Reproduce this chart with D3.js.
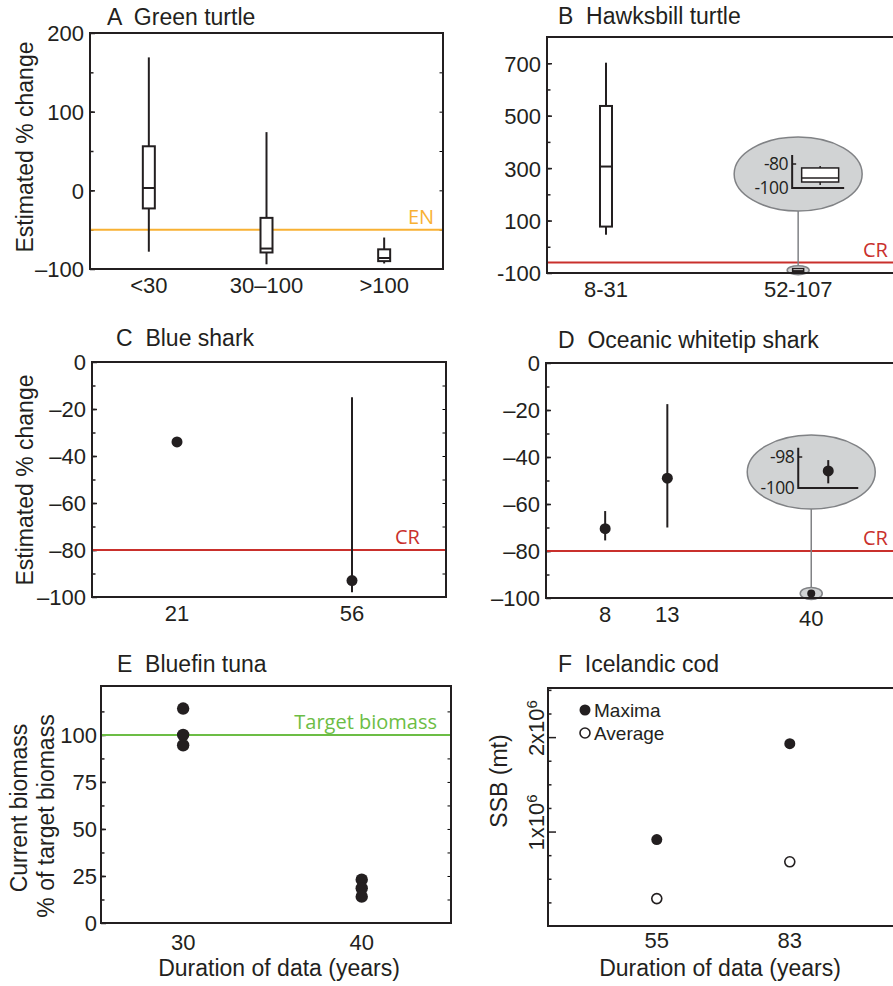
<!DOCTYPE html>
<html>
<head>
<meta charset="utf-8">
<script src="https://cdn.jsdelivr.net/npm/d3@7"></script>
<style>
body { margin: 0; background: #fff; }
text { font-family: "Liberation Sans", Arial, sans-serif; fill: #231f20; }
.myr { font-family: "Open Sans", "Noto Sans", sans-serif; }
</style>
</head>
<body>
<svg id="chart" width="893" height="986"></svg>
<script>
// ---- data ----
// A green turtle (box plots)
var greenCats = ["<30", "30\u2013100", ">100"];
var greenLo  = [-78, -94, -93];
var greenQ1  = [-23, -79, -90];
var greenMed = [3, -74, -86];
var greenQ3  = [56, -35, -75];
var greenHi  = [169, 74, -60];
var greenEN = -50;

// B hawksbill turtle
var hawkCats = ["8-31", "52-107"];
var hawkLo  = [46, -97.5];
var hawkQ1  = [77, -95];
var hawkMed = [306, -91.7];
var hawkQ3  = [537, -83.3];
var hawkHi  = [702, -81.7];
var hawkCR = -60;

// C blue shark
var blueYears = [21, 56];
var blueMean = [-34, -93];
var blueLo = [null, -98];
var blueHi = [null, -15];
var blueCR = -80;

// D oceanic whitetip
var owtYears = [8, 13, 40];
var owtMean = [-70.5, -49, -98.9];
var owtLo = [-75.5, -70, -99.7];
var owtHi = [-63, -17.5, -98.2];
var owtCR = -80;

// E bluefin tuna
var tunaYears = [30, 30, 30, 40, 40, 40];
var tunaPct = [114, 100, 94.5, 23, 18.5, 14];
var tunaTarget = 100;

// F icelandic cod
var codYears = [55, 83];
var codMax = [0.915e6, 1.93e6];
var codAvg = [0.29e6, 0.68e6];

// ---- drawing ----
var ink = "#231f20";
var svg = d3.select("#chart");
var red = "#c9302c", orange = "#f8b133", green = "#6cbd45", grey = "#808285", greyFill = "#d1d3d4";

function frame(x0, x1, y0, y1) {
  svg.append("rect")
    .attr("x", x0).attr("y", y0)
    .attr("width", x1 - x0).attr("height", y1 - y0)
    .attr("fill", "none").attr("stroke", ink).attr("stroke-width", 2);
}

// left/right inward ticks, labels on the left
function yTicks(y, x0, x1, minor, major, fmt, rightSide, opts) {
  opts = opts || {};
  var gm = svg.append("g").attr("transform", "translate(" + x0 + ",0)")
    .call(d3.axisLeft(y).tickValues(minor).tickSize(-3.5).tickFormat(""));
  gm.select(".domain").remove();
  var g = svg.append("g").attr("transform", "translate(" + x0 + ",0)")
    .call(d3.axisLeft(y).tickValues(major).tickSize(-(opts.majorLen || 5)).tickPadding(opts.pad || 6).tickFormat(fmt));
  g.select(".domain").remove();
  g.selectAll("text").style("font-size", "22px").attr("dy", "0.36em");
  if (opts.noLabels) g.selectAll("text").remove();
  if (rightSide) {
    var gr = svg.append("g").attr("transform", "translate(" + x1 + ",0)")
      .call(d3.axisRight(y).tickValues(minor).tickSize(-3.5).tickFormat(""));
    gr.select(".domain").remove();
  }
  [gm, g].forEach(function (s) { s.attr("color", ink).selectAll("line").attr("stroke-width", 1.5); });
  return g;
}

function xLabels(x, vals, texts, yb) {
  svg.append("g").selectAll("text").data(vals).enter().append("text")
    .attr("x", function (d) { return x(d); })
    .attr("y", yb)
    .attr("text-anchor", "middle")
    .style("font-size", "22px")
    .text(function (d, i) { return texts[i]; });
}

function title(txt, x, y) {
  svg.append("text").attr("x", x).attr("y", y)
    .style("font-size", "23px").style("white-space", "pre").text(txt);
}

function yTitle(txt, x, y) {
  svg.append("text").attr("transform", "translate(" + x + "," + y + ") rotate(-90)")
    .attr("text-anchor", "middle").style("font-size", "23px").text(txt);
}

function refLine(y, x0, x1, v, col, label, lx, anchor) {
  svg.append("line").attr("x1", x0 + 1).attr("x2", x1).attr("y1", y(v)).attr("y2", y(v))
    .attr("stroke", col).attr("stroke-width", 2);
  svg.append("text").attr("class", "myr").attr("x", lx).attr("y", y(v) - 6)
    .attr("text-anchor", anchor || "start")
    .style("font-size", "20px").style("fill", col).text(label);
}

function boxes(g, x, y, cats, lo, q1, med, q3, hi, w, sw) {
  var sel = g.selectAll(".bx").data(cats).enter().append("g");
  sel.append("line")
    .attr("x1", function (d) { return x(d); }).attr("x2", function (d) { return x(d); })
    .attr("y1", function (d, i) { return y(lo[i]); }).attr("y2", function (d, i) { return y(hi[i]); })
    .attr("stroke", ink).attr("stroke-width", sw);
  sel.append("rect")
    .attr("x", function (d) { return x(d) - w / 2; }).attr("width", w)
    .attr("y", function (d, i) { return y(q3[i]); })
    .attr("height", function (d, i) { return y(q1[i]) - y(q3[i]); })
    .attr("fill", "#fff").attr("stroke", ink).attr("stroke-width", sw);
  sel.append("line")
    .attr("x1", function (d) { return x(d) - w / 2; }).attr("x2", function (d) { return x(d) + w / 2; })
    .attr("y1", function (d, i) { return y(med[i]); }).attr("y2", function (d, i) { return y(med[i]); })
    .attr("stroke", ink).attr("stroke-width", sw);
  return sel;
}

function dash(v) { return v < 0 ? "\u2013" + Math.abs(v) : "" + v; }
function hyph(v) { return "" + v; }

// ===== A Green turtle =====
(function () {
  var x0 = 90, x1 = 443, y0 = 33, y1 = 269;
  var x = d3.scalePoint().domain(greenCats).range([x0, x1]).padding(0.5);
  var y = d3.scaleLinear().domain([-100, 200]).range([y1, y0]);
  yTicks(y, x0, x1, d3.range(-50, 200, 50), [-100, 0, 100, 200], dash, true);
  refLine(y, x0, x1, greenEN, orange, "EN", 408);
  boxes(svg.append("g"), x, y, greenCats, greenLo, greenQ1, greenMed, greenQ3, greenHi, 12, 2);
  frame(x0, x1, y0, y1);
  xLabels(x, greenCats, greenCats, y1 + 24);
  title("A  Green turtle", 107, 25);
  yTitle("Estimated % change", 33, 147);
})();

// ===== B Hawksbill turtle =====
(function () {
  var x0 = 547, x1 = 900, y0 = 37, y1 = 273;
  var x = d3.scaleLinear().domain([-0.307, 1.53]).range([x0, x1]);
  var xi = function (d) { return x(hawkCats.indexOf(d)); };
  var y = d3.scaleLinear().domain([-100, 800]).range([y1, y0]);
  yTicks(y, x0, x1, d3.range(0, 800, 100), [-100, 100, 300, 500, 700], hyph, false);
  refLine(y, x0, x1, hawkCR, red, "CR", 863);
  boxes(svg.append("g"), xi, y, hawkCats.slice(0, 1), hawkLo, hawkQ1, hawkMed, hawkQ3, hawkHi, 12, 2);

  // zoom callout for the second box
  var cx = xi(hawkCats[1]), cy = (y(hawkQ3[1]) + y(hawkQ1[1])) / 2;
  var ecx = cx, ecy = 174;
  svg.append("line").attr("x1", cx).attr("x2", cx).attr("y1", ecy + 37).attr("y2", cy - 4)
    .attr("stroke", grey).attr("stroke-width", 1.5);
  svg.append("ellipse").attr("cx", cx).attr("cy", cy).attr("rx", 11).attr("ry", 4.5)
    .attr("fill", greyFill).attr("stroke", grey).attr("stroke-width", 1.5);
  var one = ["b2"];
  boxes(svg.append("g"), function () { return cx; }, y, one, [hawkLo[1]], [hawkQ1[1]], [hawkMed[1]], [hawkQ3[1]], [hawkHi[1]], 11, 1.5);
  svg.append("ellipse").attr("cx", ecx).attr("cy", ecy).attr("rx", 64).attr("ry", 37)
    .attr("fill", greyFill).attr("stroke", grey).attr("stroke-width", 1.5);
  // inset axes
  var iy = d3.scaleLinear().domain([-100, -80]).range([188, 164]);
  var ax = ecx - 6, axEnd = ecx + 46;
  svg.append("path").attr("d", "M" + ax + "," + iy(-72.5) + "V" + iy(-100) + "H" + axEnd)
    .attr("fill", "none").attr("stroke", ink).attr("stroke-width", 2);
  svg.append("line").attr("x1", ax).attr("x2", ax + 4).attr("y1", iy(-80)).attr("y2", iy(-80))
    .attr("stroke", ink).attr("stroke-width", 1.5);
  svg.selectAll(".inB").data([-80, -100]).enter().append("text").attr("class", "myr")
    .attr("x", ax - 4).attr("y", function (d) { return iy(d); }).attr("dy", "0.36em")
    .attr("text-anchor", "end").style("font-size", "17.5px").style("letter-spacing", "-0.5px")
    .text(function (d) { return d; });
  boxes(svg.append("g"), function () { return ecx + 22; }, iy, one, [hawkLo[1]], [hawkQ1[1]], [hawkMed[1]], [hawkQ3[1]], [hawkHi[1]], 37, 1.5);

  frame(x0, x1, y0, y1);
  xLabels(xi, hawkCats, hawkCats, y1 + 24);
  title("B  Hawksbill turtle", 558, 24);
})();

// ===== C Blue shark =====
(function () {
  var x0 = 92, x1 = 446, y0 = 362, y1 = 597;
  var x = d3.scaleLinear().domain([4, 74.8]).range([x0, x1]);
  var y = d3.scaleLinear().domain([-100, 0]).range([y1, y0]);
  yTicks(y, x0, x1, d3.range(-90, 0, 10), [-100, -80, -60, -40, -20, 0], dash, true);
  refLine(y, x0, x1, blueCR, red, "CR", 395);
  var g = svg.append("g");
  blueYears.forEach(function (yr, i) {
    if (blueLo[i] != null) {
      g.append("line").attr("x1", x(yr)).attr("x2", x(yr)).attr("y1", y(blueLo[i])).attr("y2", y(blueHi[i]))
        .attr("stroke", ink).attr("stroke-width", 2);
    }
    g.append("circle").attr("cx", x(yr)).attr("cy", y(blueMean[i])).attr("r", 5.5).attr("fill", ink);
  });
  frame(x0, x1, y0, y1);
  xLabels(x, blueYears, blueYears, y1 + 24);
  title("C  Blue shark", 116, 346);
  yTitle("Estimated % change", 33, 480);
})();

// ===== D Oceanic whitetip shark =====
(function () {
  var x0 = 546, x1 = 900, y0 = 363, y1 = 598;
  var x = d3.scaleLog().domain([5.04, 80]).range([x0, x1]);
  var y = d3.scaleLinear().domain([-100, 0]).range([y1, y0]);
  yTicks(y, x0, x1, d3.range(-90, 0, 10), [-100, -80, -60, -40, -20, 0], dash, false);
  refLine(y, x0, x1, owtCR, red, "CR", 863);
  var g = svg.append("g");
  owtYears.forEach(function (yr, i) {
    if (i === owtYears.length - 1) return;
    g.append("line").attr("x1", x(yr)).attr("x2", x(yr)).attr("y1", y(owtLo[i])).attr("y2", y(owtHi[i]))
      .attr("stroke", ink).attr("stroke-width", 2);
    g.append("circle").attr("cx", x(yr)).attr("cy", y(owtMean[i])).attr("r", 5.5).attr("fill", ink);
  });
  // callout for the 40-year estimate
  var k = owtYears.length - 1;
  var cx = x(owtYears[k]), cy = y(owtMean[k]) - 2;
  var ecy = 472;
  svg.append("line").attr("x1", cx).attr("x2", cx).attr("y1", ecy + 37).attr("y2", cy - 6)
    .attr("stroke", grey).attr("stroke-width", 1.5);
  svg.append("ellipse").attr("cx", cx).attr("cy", cy).attr("rx", 11).attr("ry", 6)
    .attr("fill", greyFill).attr("stroke", grey).attr("stroke-width", 1.5);
  svg.append("circle").attr("cx", cx).attr("cy", cy).attr("r", 4).attr("fill", ink);
  svg.append("ellipse").attr("cx", cx).attr("cy", ecy).attr("rx", 64).attr("ry", 37)
    .attr("fill", greyFill).attr("stroke", grey).attr("stroke-width", 1.5);
  var iy = d3.scaleLinear().domain([-100, -98]).range([488, 457]);
  var ax = cx - 13, axEnd = cx + 47, px = cx + 17;
  svg.append("path").attr("d", "M" + ax + "," + iy(-97.4) + "V" + iy(-100) + "H" + axEnd)
    .attr("fill", "none").attr("stroke", ink).attr("stroke-width", 2);
  svg.append("line").attr("x1", ax).attr("x2", ax + 4).attr("y1", iy(-98)).attr("y2", iy(-98))
    .attr("stroke", ink).attr("stroke-width", 1.5);
  svg.selectAll(".inD").data([-98, -100]).enter().append("text").attr("class", "myr")
    .attr("x", ax - 4).attr("y", function (d) { return iy(d); }).attr("dy", "0.36em")
    .attr("text-anchor", "end").style("font-size", "17.5px").style("letter-spacing", "-0.5px")
    .text(function (d) { return d; });
  svg.append("line").attr("x1", px).attr("x2", px).attr("y1", iy(owtLo[k])).attr("y2", iy(owtHi[k]))
    .attr("stroke", ink).attr("stroke-width", 2);
  svg.append("circle").attr("cx", px).attr("cy", iy(owtMean[k])).attr("r", 5.5).attr("fill", ink);

  frame(x0, x1, y0, y1);
  svg.append("g").selectAll("text").data(owtYears).enter().append("text")
    .attr("x", function (d) { return x(d); })
    .attr("y", function (d, i) { return y1 + 24 + (i === k ? 4 : 0); })
    .attr("text-anchor", "middle").style("font-size", "22px")
    .text(function (d) { return d; });
  title("D  Oceanic whitetip shark", 558, 348);
})();

// ===== E Bluefin tuna =====
(function () {
  var x0 = 101, x1 = 451, y0 = 686, y1 = 923;
  var x = d3.scaleLinear().domain([25.4, 45]).range([x0, x1]);
  var y = d3.scaleLinear().domain([0, 126]).range([y1, y0]);
  yTicks(y, x0, x1, d3.range(12.5, 125, 12.5), [0, 25, 50, 75, 100], hyph, true, {pad: 4});
  refLine(y, x0, x1, tunaTarget, green, "Target biomass", 437, "end");
  svg.append("g").selectAll("circle").data(tunaPct).enter().append("circle")
    .attr("cx", function (d, i) { return x(tunaYears[i]); })
    .attr("cy", function (d) { return y(d); })
    .attr("r", 6.2).attr("fill", ink);
  frame(x0, x1, y0, y1);
  xLabels(x, [30, 40], [30, 40], y1 + 27);
  title("E  Bluefin tuna", 117, 672);
  yTitle("Current biomass", 27, 808);
  yTitle("% of target biomass", 54, 816);
  svg.append("text").attr("x", (x0 + x1) / 2 + 3).attr("y", 976).attr("text-anchor", "middle")
    .style("font-size", "23px").text("Duration of data (years)");
})();

// ===== F Icelandic cod =====
(function () {
  var x0 = 548, x1 = 900, y0 = 688, y1 = 926;
  var x = d3.scaleLinear().domain([32.1, 106.2]).range([x0, x1]);
  var y = d3.scaleLinear().domain([0, 2.52e6]).range([y1, y0]);
  var minor = d3.range(1, 11).map(function (i) { return i * 0.25e6; }).filter(function (v) { return v % 1e6 !== 0; });
  yTicks(y, x0, x1, minor, [1e6, 2e6], "", false, {majorLen: 8, noLabels: true});
  // rotated tick labels
  [1e6, 2e6].forEach(function (v) {
    var t = svg.append("text")
      .attr("transform", "translate(" + (x0 - 4) + "," + (y(v) + 19) + ") rotate(-90)")
      .style("font-size", "22px");
    t.append("tspan").text((v / 1e6) + "x10");
    t.append("tspan").attr("dy", "-0.45em").style("font-size", "15px").text("6");
  });
  var g = svg.append("g");
  g.selectAll(".mx").data(codMax).enter().append("circle")
    .attr("cx", function (d, i) { return x(codYears[i]); }).attr("cy", function (d) { return y(d); })
    .attr("r", 5.5).attr("fill", ink);
  g.selectAll(".av").data(codAvg).enter().append("circle")
    .attr("cx", function (d, i) { return x(codYears[i]); }).attr("cy", function (d) { return y(d); })
    .attr("r", 5).attr("fill", "#fff").attr("stroke", ink).attr("stroke-width", 1.6);
  // legend
  svg.append("circle").attr("cx", 585).attr("cy", 710).attr("r", 5.5).attr("fill", ink);
  svg.append("circle").attr("cx", 585).attr("cy", 733).attr("r", 5).attr("fill", "#fff").attr("stroke", ink).attr("stroke-width", 1.6);
  svg.append("text").attr("x", 594).attr("y", 710).attr("dy", "0.36em").style("font-size", "19px").text("Maxima");
  svg.append("text").attr("x", 594).attr("y", 733).attr("dy", "0.36em").style("font-size", "19px").text("Average");
  frame(x0, x1, y0, y1);
  xLabels(x, codYears, codYears, y1 + 22);
  title("F  Icelandic cod", 558, 672);
  yTitle("SSB (mt)", 507, 781);
  svg.append("text").attr("x", 720).attr("y", 976).attr("text-anchor", "middle")
    .style("font-size", "23px").text("Duration of data (years)");
})();
</script>
</body>
</html>
